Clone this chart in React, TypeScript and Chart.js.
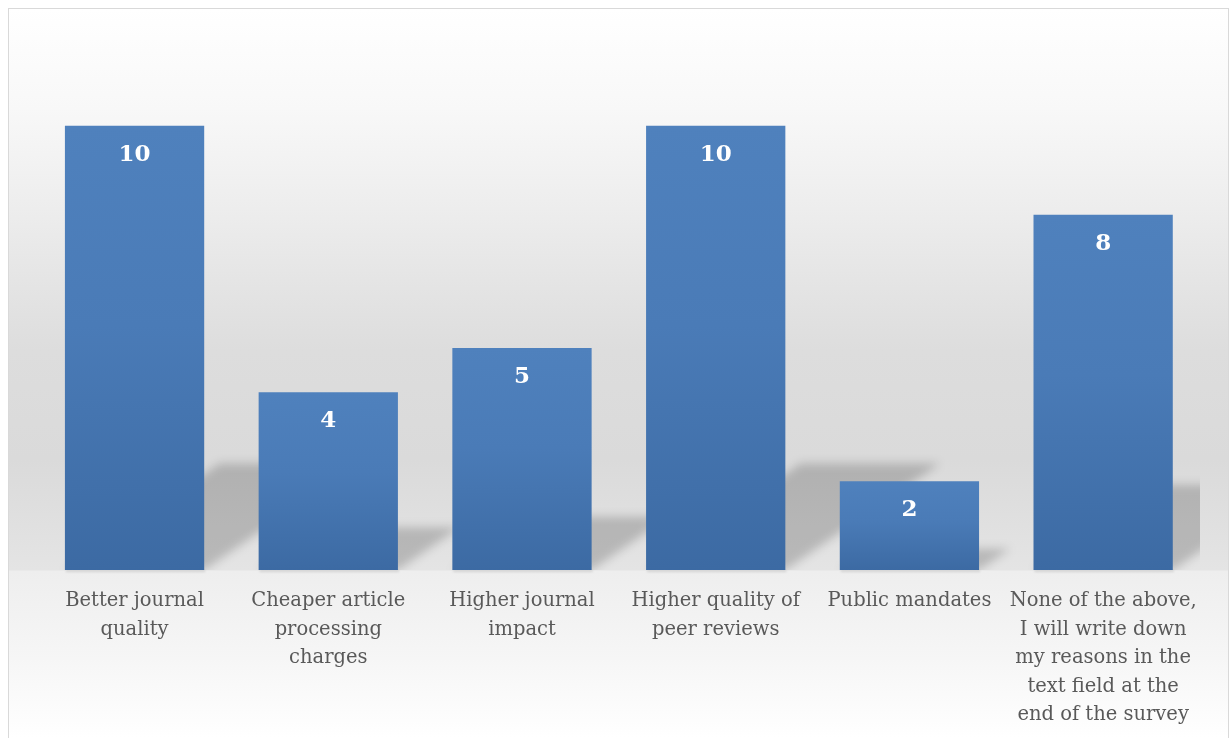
import React, { useEffect, useRef } from "react";
import { Chart, registerables } from "chart.js";

Chart.register(...registerables);

const categories: string[][] = [
  ["Better journal", "quality"],
  ["Cheaper article", "processing", "charges"],
  ["Higher journal", "impact"],
  ["Higher quality of", "peer reviews"],
  ["Public mandates"],
  ["None of the above,", "I will write down", "my reasons in the", "text field at the", "end of the survey"],
];
const values: number[] = [10, 4, 5, 10, 2, 8];
const yMax = 12;

const SERIF = "'DejaVu Serif', 'Liberation Serif', serif";

const shadowPlugin = {
  id: "perspectiveShadow",
  beforeDatasetsDraw(chart: any) {
    const meta = chart.getDatasetMeta(0);
    const { ctx, chartArea } = chart;
    ctx.save();
    ctx.beginPath();
    ctx.rect(chartArea.left, chartArea.top, chartArea.right - chartArea.left, chartArea.bottom - chartArea.top);
    ctx.clip();
    ctx.filter = "blur(5px)";
    ctx.fillStyle = "rgba(0,0,0,0.19)";
    meta.data.forEach((bar: any) => {
      const left = bar.x - bar.width / 2;
      const right = bar.x + bar.width / 2;
      const hgt = (bar.base - bar.y) * 0.24;
      const dx = hgt * 1.45;
      ctx.beginPath();
      ctx.moveTo(left, bar.base);
      ctx.lineTo(right, bar.base);
      ctx.lineTo(right + dx, bar.base - hgt);
      ctx.lineTo(left + dx, bar.base - hgt);
      ctx.closePath();
      ctx.fill();
    });
    ctx.restore();
    ctx.save();
    ctx.filter = "blur(1px)";
    ctx.fillStyle = "rgba(0,0,0,0.12)";
    meta.data.forEach((bar: any) => {
      const left = bar.x - bar.width / 2;
      ctx.fillRect(left + 1, bar.base, bar.width, 2);
    });
    ctx.restore();
  },
};

const labelPlugin = {
  id: "valueLabels",
  afterDatasetsDraw(chart: any) {
    const meta = chart.getDatasetMeta(0);
    const { ctx } = chart;
    ctx.save();
    ctx.fillStyle = "#ffffff";
    ctx.font = `bold 23px ${SERIF}`;
    ctx.textAlign = "center";
    ctx.textBaseline = "middle";
    meta.data.forEach((bar: any, i: number) => {
      ctx.fillText(String(values[i]), bar.x, bar.y + 29);
    });
    ctx.restore();
  },
};

export default function App() {
  const ref = useRef<HTMLCanvasElement | null>(null);

  useEffect(() => {
    if (!ref.current) return;
    const chart = new Chart(ref.current, {
      type: "bar",
      data: {
        labels: categories,
        datasets: [
          {
            data: values,
            backgroundColor: (c: any) => {
              const chart = c.chart;
              const y = chart.scales && chart.scales.y;
              if (!y || c.raw === undefined) return "#4a7bb7";
              const top = y.getPixelForValue(c.raw);
              const base = y.getPixelForValue(0);
              if (!isFinite(top) || !isFinite(base) || top === base) return "#4a7bb7";
              const g = chart.ctx.createLinearGradient(0, top, 0, base);
              g.addColorStop(0, "#4f81bd");
              g.addColorStop(0.45, "#4a7bb7");
              g.addColorStop(1, "#3c6aa3");
              return g;
            },
            borderWidth: 0,
            categoryPercentage: 1,
            barPercentage: 0.719,
          },
        ],
      },
      options: {
        animation: false,
        responsive: true,
        maintainAspectRatio: false,
        layout: { padding: { left: 28.7, right: 28, top: 28, bottom: 0 } },
        plugins: {
          legend: { display: false },
          tooltip: { enabled: false },
        },
        scales: {
          x: {
            grid: { display: false, drawTicks: false },
            border: { display: false },
            ticks: {
              color: "#595959",
              font: { family: SERIF, size: 19.5, lineHeight: 1.46 },
              padding: 17,
              maxRotation: 0,
              autoSkip: false,
            },
            afterFit: (s: any) => {
              s.height = 168;
            },
          },
          y: {
            display: false,
            min: 0,
            max: yMax,
          },
        },
      },
      plugins: [shadowPlugin, labelPlugin],
    });
    return () => chart.destroy();
  }, []);

  return (
    <div
      style={{
        position: "fixed",
        left: 8,
        top: 8,
        width: 1221,
        height: 760,
        boxSizing: "border-box",
        border: "1px solid #d9d9d9",
        background:
          "linear-gradient(to bottom, #ffffff 0px, #f8f8f8 100px, #eeeeee 191px, #dddddd 341px, #dadada 450px, #e4e4e4 561px, #eeeeee 562px, #f6f6f6 650px, #ffffff 729px, #ffffff 760px)",
      }}
    >
      <div style={{ position: "absolute", left: 0, top: 0, width: 1219, height: 729 }}>
        <canvas ref={ref} />
      </div>
    </div>
  );
}
